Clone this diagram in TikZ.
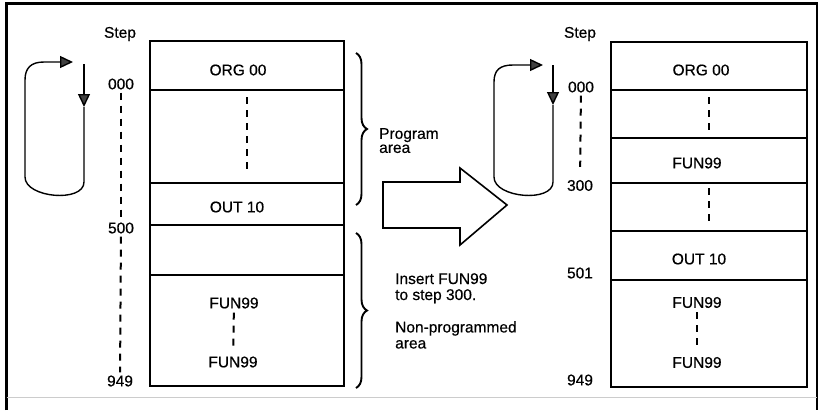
\documentclass[tikz,border=0pt]{standalone}
\usepackage{fontspec}
\setmainfont{Liberation Sans}[FakeBold=0.5]
\usetikzlibrary{positioning,arrows.meta,decorations.pathreplacing}

\begin{document}
\begin{tikzpicture}[x=1pt, y=-1pt,
  row/.style={draw, line width=1.3pt, minimum width=194pt,
              inner sep=0pt, outer sep=0pt},
  txt/.style={font=\fontsize{15.5}{16}\selectfont, inner sep=2pt},
  stepno/.style={font=\fontsize{15.5}{16}\selectfont, inner sep=3pt},
  note/.style={anchor=north west, align=left, inner sep=0pt},
  dashln/.style={line width=2pt, dash pattern=on 7pt off 6pt},
  loopln/.style={line width=1.4pt},
  tip/.style={-{Triangle[length=13pt, width=12pt, fill=black!75]}},
  brc/.style={decorate, decoration={brace, amplitude=11pt}, line width=1.9pt},
]
\useasboundingbox (0,0) rectangle (821,410);

% ---- Frame ----
\draw[line width=2.2pt] (6.5,410) -- (6.5,3.5) -- (817,3.5) -- (817,410);
\draw[gray!40, line width=0.8pt] (6.5,397.5) -- (817,397.5);

% ---- Left program ----
\node[row, minimum height=49pt] (lr1) at (247,65.5) {};
\node[row, minimum height=93pt, below=0pt of lr1] (lr2) {};
\node[row, minimum height=42pt, below=0pt of lr2] (lr3) {};
\node[row, minimum height=50pt, below=0pt of lr3] (lr4) {};
\node[row, minimum height=111pt, below=0pt of lr4] (lr5) {};

\node[txt] (lorg) at ([xshift=-9pt, yshift=-4.5pt]lr1.center) {ORG 00};
\node[txt] (lout) at ([xshift=-10pt, yshift=-3pt]lr3.center) {OUT 10};
\node[txt] (lfa) at ([xshift=-13pt, yshift=27.5pt]lr5.center) {FUN99};
\node[txt] (lfb) at ([xshift=-14pt, yshift=-31.5pt]lr5.center) {FUN99};
\draw[dashln] ([yshift=-7pt]lr2.north) -- ([yshift=10pt]lr2.south);
\draw[dashln, shorten <=2pt, shorten >=5pt] (lfa) -- (lfb);

% ---- Left steps ----
\node[stepno] (lstep) at (120,34) {Step};
\node[stepno] (ls000) at (121,84) {000};
\node[stepno] (ls500) at (121,228) {500};
\node[stepno] (ls949) at (120,381) {949};
\draw[dashln] (ls000) -- (ls500);
\draw[dashln] (ls500) -- (ls949);

% ---- Left loop ----
\draw[loopln, tip] (84,64) -- (84,107);
\draw[loopln, tip] (84,107) -- (84,182) .. controls (84,203) and (25,198) .. (25,177)
  -- (25,80) .. controls (25,68) and (31,62) .. (44,62) -- (73,62);

% ---- Braces and notes ----
\draw[brc] (356,53) -- (356,205);
\draw[brc] (356,233) -- (356,388);
\node[note, font=\fontsize{15.5}{14}\selectfont] (parea) at (379,128) {Program\\area};
\node[note, font=\fontsize{15.5}{16}\selectfont] (ins) at (395,273) {Insert FUN99\\to step 300.};
\node[note, font=\fontsize{15.5}{16}\selectfont] (npa) at (395,321) {Non-programmed\\area};

% ---- Block arrow ----
\draw[line width=1.6pt] (383,182) -- (460,182) -- (460,168) -- (507,205)
  -- (460,245) -- (460,228) -- (383,228) -- cycle;

% ---- Right loop ----
\draw[loopln, tip] (553,65) -- (553,105);
\draw[loopln, tip] (553,105) -- (553,182) .. controls (553,203) and (494,198) .. (494,177)
  -- (494,82) .. controls (494,70) and (500,65) .. (513,65) -- (543,65);

% ---- Right steps ----
\node[stepno] (rstep) at (580,34) {Step};
\node[stepno] (rs000) at (581,87) {000};
\node[stepno] (rs300) at (580,185.5) {300};
\node[stepno] (rs501) at (580,273) {501};
\node[stepno] (rs949) at (580,380) {949};
\draw[dashln, shorten >=10pt] (rs000) -- (rs300);

% ---- Right program ----
\node[row, minimum width=196pt, minimum height=48pt] (rr1) at (709,66) {};
\node[row, minimum width=196pt, minimum height=48pt, below=0pt of rr1] (rr2) {};
\node[row, minimum width=196pt, minimum height=45pt, below=0pt of rr2] (rr3) {};
\node[row, minimum width=196pt, minimum height=48pt, below=0pt of rr3] (rr4) {};
\node[row, minimum width=196pt, minimum height=49pt, below=0pt of rr4] (rr5) {};
\node[row, minimum width=196pt, minimum height=107pt, below=0pt of rr5] (rr6) {};

\node[txt] (rorg) at ([xshift=-8pt, yshift=-4pt]rr1.center) {ORG 00};
\node[txt] (rfun) at ([xshift=-12pt, yshift=-2.5pt]rr3.center) {FUN99};
\node[txt] (rout) at ([xshift=-10pt, yshift=-3.5pt]rr5.center) {OUT 10};
\node[txt] (rfa) at ([xshift=-12pt, yshift=31pt]rr6.center) {FUN99};
\node[txt] (rfb) at ([xshift=-12pt, yshift=-29pt]rr6.center) {FUN99};
\draw[dashln] ([yshift=-7pt]rr2.north) -- ([yshift=5pt]rr2.south);
\draw[dashln] ([yshift=-5pt]rr4.north) -- ([yshift=6pt]rr4.south);
\draw[dashln, shorten <=2pt, shorten >=5pt] (rfa) -- (rfb);

\end{tikzpicture}
\end{document}
